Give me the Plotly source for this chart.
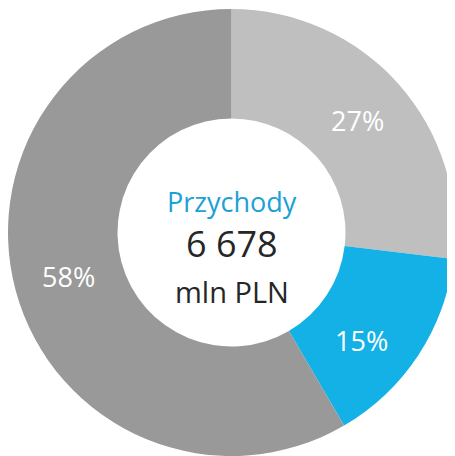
import math
import plotly.graph_objects as go

labels = ["Segment A", "Segment B", "Segment C"]
values = [26.9, 14.7, 58.4]
text_labels = ["27%", "15%", "58%"]
colors = ["#BFBFBF", "#14B1E6", "#999999"]
# where along each slice (0 = start, 1 = end) its label sits
label_along = [0.5, 0.62, 0.5]

center_title = "Przychody"
center_value = "6 678"
center_unit = "mln PLN"

HOLE = 0.51

# page body has an 8px margin; size the figure to fit the visible window
OFF = 8
W, H = 447, 448
MT = 1
PH = H - MT

def py(y):
    return 1 - (y - OFF - MT) / PH

fig = go.Figure(go.Pie(
    labels=labels,
    values=values,
    textinfo="none",
    hole=HOLE,
    sort=False,
    direction="clockwise",
    rotation=0,
    marker=dict(colors=colors, line=dict(width=0)),
    showlegend=False,
    hoverinfo="skip",
))

# slice labels placed at the slice's angle, mid-way through the ring
total = sum(values)
start = 0.0
rr = 0.5 * (1 + HOLE) / 2
for v, t, f in zip(values, text_labels, label_along):
    ang = 2 * math.pi * (start + f * v) / total
    fig.add_annotation(text=t, x=0.5 + rr * math.sin(ang), y=0.5 + rr * math.cos(ang),
                       xref="paper", yref="paper", showarrow=False,
                       font=dict(family="Open Sans", size=27, color="white"),
                       xanchor="center", yanchor="middle")
    start += v

fig.add_annotation(text=center_title, x=0.5, y=py(201), xref="paper", yref="paper",
                   showarrow=False, font=dict(family="Open Sans", size=27, color="#1BA1D6"),
                   xanchor="center", yanchor="middle")
fig.add_annotation(text=center_value, x=0.5, y=py(243.5), xref="paper", yref="paper",
                   showarrow=False, font=dict(family="Open Sans", size=36, color="#262626"),
                   xanchor="center", yanchor="middle")
fig.add_annotation(text=center_unit, x=0.5, y=py(291), xref="paper", yref="paper",
                   showarrow=False, font=dict(family="Open Sans", size=29, color="#262626"),
                   xanchor="center", yanchor="middle")

fig.update_layout(
    width=W, height=H,
    margin=dict(l=0, r=0, t=MT, b=0),
    paper_bgcolor="white",
    plot_bgcolor="white",
)

fig.write_html("out.html")
